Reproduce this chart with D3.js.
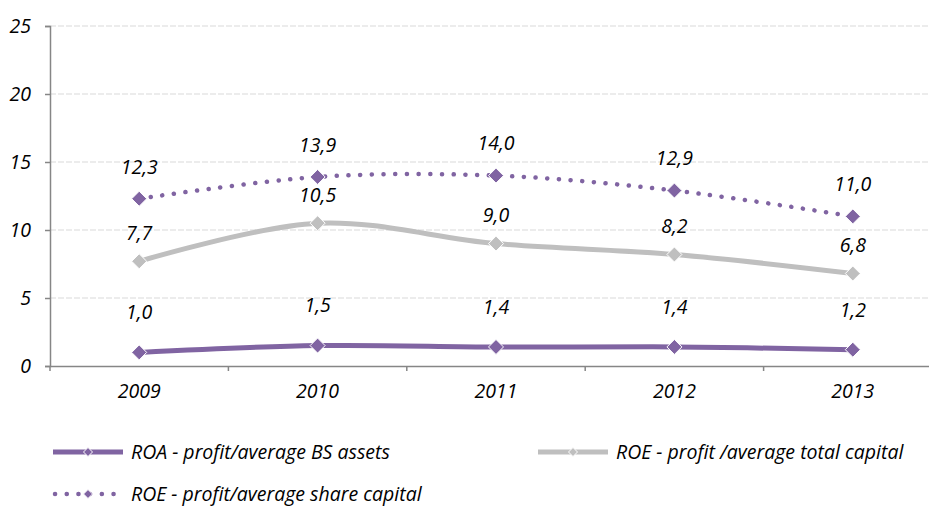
<!DOCTYPE html>
<html>
<head>
<meta charset="utf-8">
<script src="https://cdn.jsdelivr.net/npm/d3@7"></script>
<style>
  html, body { margin: 0; padding: 0; background: #fff; }
  svg { display: block; }
  text { font-family: "Open Sans", Lato, sans-serif; font-style: italic; fill: #000; }
</style>
</head>
<body>
<svg id="chart" width="929" height="508"></svg>
<script>
const years = ["2009", "2010", "2011", "2012", "2013"];
const roaValues = [1.0, 1.5, 1.4, 1.4, 1.2];
const roeTotalValues = [7.7, 10.5, 9.0, 8.2, 6.8];
const roeShareValues = [12.3, 13.9, 14.0, 12.9, 11.0];
const yTicks = [0, 5, 10, 15, 20, 25];
const seriesNames = [
  "ROA - profit/average BS assets",
  "ROE - profit /average total capital",
  "ROE - profit/average share capital"
];

(function () {
const svg = d3.select("#chart");
const W = 929;
const FS = "19.5px";
const mLeft = 50, mRight = 942, mTop = 26, mBottom = 366;

const x = d3.scaleBand().domain(years).range([mLeft, mRight]).padding(0);
const y = d3.scaleLinear().domain([0, 25]).range([mBottom, mTop]);
const cx = d => x(d) + x.bandwidth() / 2;

const fmt = v => d3.format(".1f")(v).replace(".", ",");

// gridlines
svg.append("g").selectAll("line").data(yTicks.filter(t => t > 0)).join("line")
  .attr("x1", mLeft).attr("x2", W)
  .attr("y1", d => y(d)).attr("y2", d => y(d))
  .attr("stroke", "#d9d9d9").attr("stroke-width", 1.2)
  .attr("stroke-dasharray", "6,2");

// y axis
const yAxis = svg.append("g").attr("transform", `translate(${mLeft},0)`)
  .call(d3.axisLeft(y).tickValues(yTicks).tickSize(5).tickPadding(14).tickFormat(d3.format("d")));
yAxis.select(".domain").attr("stroke", "#868686").attr("stroke-width", 1.5);
yAxis.selectAll(".tick line").attr("stroke", "#868686").attr("stroke-width", 1.5);
yAxis.selectAll("text").style("font-size", FS).attr("fill", "#000");

// x axis
const xAxis = svg.append("g").attr("transform", `translate(0,${mBottom})`)
  .call(d3.axisBottom(x).tickSize(0).tickPadding(18));
xAxis.select(".domain").attr("stroke", "#868686").attr("stroke-width", 1.5);
xAxis.selectAll("text").style("font-size", FS).attr("fill", "#000");
// band boundary ticks
svg.append("g").selectAll("line").data(years).join("line")
  .attr("x1", d => x(d)).attr("x2", d => x(d))
  .attr("y1", mBottom).attr("y2", mBottom + 5)
  .attr("stroke", "#868686").attr("stroke-width", 1.5);

const line = d3.line().x((d, i) => cx(years[i])).y(d => y(d)).curve(d3.curveCatmullRom.alpha(0.5));

const series = [
  { name: seriesNames[0], values: roaValues, color: "#8064a2", width: 5, dash: null, labelDy: -40 },
  { name: seriesNames[1], values: roeTotalValues, color: "#bfbfbf", width: 5, dash: null, labelDy: -28 },
  { name: seriesNames[2], values: roeShareValues, color: "#8064a2", width: 4.5, dash: "0.1,11.6", labelDy: -32 }
];

const diamond = (g, px, py, color, s) => {
  g.append("path")
    .attr("d", `M${px},${py - s}L${px + s},${py}L${px},${py + s}L${px - s},${py}Z`)
    .attr("fill", color).attr("stroke", "#fff").attr("stroke-width", 1);
};

series.forEach(s => {
  const g = svg.append("g");
  g.append("path").datum(s.values).attr("d", line)
    .attr("fill", "none").attr("stroke", s.color).attr("stroke-width", s.width)
    .attr("stroke-linecap", s.dash ? "round" : "butt")
    .attr("stroke-dasharray", s.dash);
  s.values.forEach((v, i) => diamond(g, cx(years[i]), y(v), s.color, 7.5));
  g.selectAll("text.lbl").data(s.values).join("text").attr("class", "lbl")
    .attr("x", (d, i) => cx(years[i])).attr("y", d => y(d) + s.labelDy)
    .attr("text-anchor", "middle").attr("dy", "0.35em")
    .style("font-size", FS).text(d => fmt(d));
});

// legend
const legendItems = [
  { s: series[0], x0: 53, ly: 452 },
  { s: series[1], x0: 538, ly: 452 },
  { s: series[2], x0: 53, ly: 494 }
];
legendItems.forEach(it => {
  const g = svg.append("g");
  const s = it.s;
  if (s.dash) {
    g.append("line").attr("x1", it.x0 + 2).attr("x2", it.x0 + 66).attr("y1", it.ly).attr("y2", it.ly)
      .attr("stroke", s.color).attr("stroke-width", 4.5).attr("stroke-linecap", "round")
      .attr("stroke-dasharray", "0.1,11.6");
    diamond(g, it.x0 + 35, it.ly, s.color, 4.5);
  } else {
    g.append("line").attr("x1", it.x0).attr("x2", it.x0 + 70).attr("y1", it.ly).attr("y2", it.ly)
      .attr("stroke", s.color).attr("stroke-width", 5);
    diamond(g, it.x0 + 35, it.ly, s.color, 4.5);
  }
  g.append("text").attr("x", it.x0 + 78).attr("y", it.ly).attr("dy", "0.35em")
    .style("font-size", FS).text(s.name);
});
})();
</script>
</body>
</html>
